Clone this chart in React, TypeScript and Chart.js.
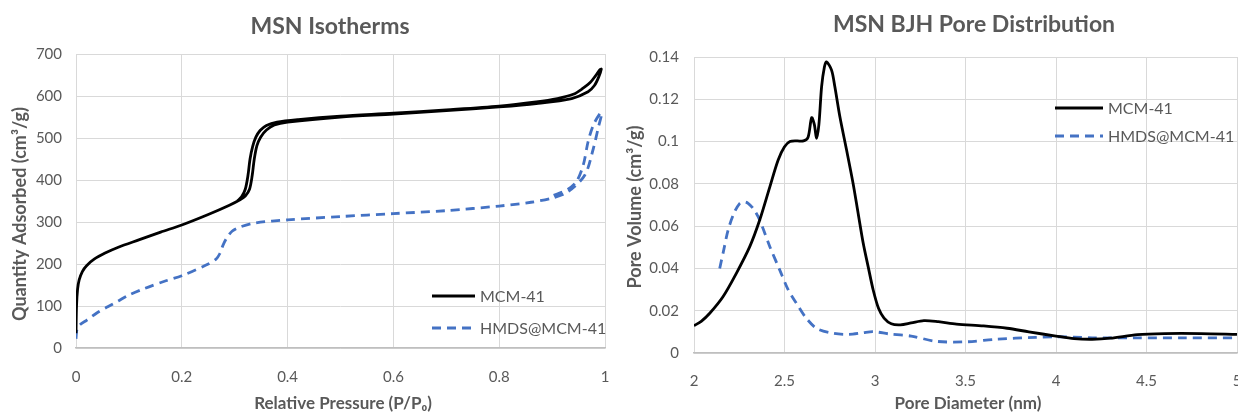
import React, { useEffect, useRef } from "react";
import { Chart, registerables } from "chart.js";
Chart.register(...registerables);

const FONT = "Lato, 'Open Sans', sans-serif";
const TEXT = "#595959";
const GRID = "#d9d9d9";
const AXIS = "#bfbfbf";
const BLACK = "#000000";
const BLUE = "#4472C4";

// ---- MSN Isotherms ----
const isoXTicks = [0, 0.2, 0.4, 0.6, 0.8, 1];
const isoYTicks = [0, 100, 200, 300, 400, 500, 600, 700];
// MCM-41: adsorption branch then desorption branch (hysteresis loop)
const mcmP = [0.0, 0.001, 0.003, 0.006, 0.012, 0.02, 0.035, 0.055, 0.08, 0.12, 0.16, 0.2, 0.25, 0.29, 0.31, 0.32, 0.328, 0.333, 0.337, 0.342, 0.349, 0.36, 0.375, 0.4, 0.5, 0.6, 0.7, 0.8, 0.87, 0.937, 0.968, 0.98, 0.988, 0.993, 0.99, 0.982, 0.972, 0.958, 0.94, 0.91, 0.87, 0.8, 0.7, 0.6, 0.5, 0.42, 0.38, 0.36, 0.348, 0.34, 0.334, 0.329, 0.325, 0.32, 0.313, 0.305];
const mcmQ = [35, 100, 140, 162, 182, 196, 212, 226, 240, 258, 276, 293, 318, 340, 353, 362, 378, 410, 450, 482, 502, 519, 531, 538, 550, 557, 565, 574, 582, 594, 610, 625, 645, 664, 662, 648, 632, 618, 604, 594, 586, 576, 567, 559, 552, 544, 538, 530, 518, 502, 480, 450, 410, 378, 360, 350];
// HMDS@MCM-41
const hmdsP = [0.0, 0.002, 0.008, 0.02, 0.04, 0.06, 0.08, 0.1, 0.13, 0.17, 0.2, 0.25, 0.265, 0.272, 0.278, 0.285, 0.295, 0.31, 0.34, 0.4, 0.5, 0.6, 0.7, 0.8, 0.86, 0.9, 0.93, 0.962, 0.978, 0.987, 0.994, 0.991, 0.978, 0.968, 0.959, 0.946, 0.93, 0.9];
const hmdsQ = [22, 45, 56, 66, 84, 98, 112, 126, 142, 160, 172, 200, 212, 225, 245, 262, 278, 288, 298, 305, 313, 320, 327, 338, 347, 357, 372, 412, 475, 523, 559, 559, 531, 491, 436, 396, 378, 362];

// ---- MSN BJH Pore Distribution ----
const bjhXTicks = [2, 2.5, 3, 3.5, 4, 4.5, 5];
const bjhYTicks = [0, 0.02, 0.04, 0.06, 0.08, 0.1, 0.12, 0.14];
const mcmD = [2.0, 2.04, 2.087, 2.16, 2.234, 2.308, 2.363, 2.419, 2.465, 2.5, 2.53, 2.57, 2.605, 2.63, 2.65, 2.665, 2.677, 2.69, 2.705, 2.72, 2.732, 2.76, 2.778, 2.806, 2.843, 2.879, 2.907, 2.935, 2.963, 2.99, 3.02, 3.05, 3.09, 3.14, 3.2, 3.27, 3.35, 3.45, 3.6, 3.73, 3.85, 4.0, 4.1, 4.2, 4.3, 4.45, 4.6, 4.8, 5.0];
const mcmV = [0.0129, 0.015, 0.0188, 0.0266, 0.0377, 0.0503, 0.0629, 0.0786, 0.0913, 0.0975, 0.1, 0.1003, 0.1003, 0.102, 0.1113, 0.108, 0.1015, 0.108, 0.126, 0.135, 0.1377, 0.1338, 0.126, 0.1117, 0.096, 0.0802, 0.066, 0.0519, 0.0405, 0.0298, 0.021, 0.0165, 0.0138, 0.0133, 0.0142, 0.0153, 0.0148, 0.0137, 0.0128, 0.0117, 0.01, 0.008, 0.0068, 0.0065, 0.007, 0.0087, 0.0092, 0.0092, 0.0088];
const hmdsD = [2.142, 2.165, 2.188, 2.22, 2.253, 2.276, 2.299, 2.33, 2.363, 2.419, 2.474, 2.52, 2.566, 2.62, 2.68, 2.77, 2.853, 2.93, 2.99, 3.08, 3.2, 3.34, 3.51, 3.667, 3.886, 4.0, 4.2, 4.43, 4.7, 5.0];
const hmdsV = [0.04, 0.049, 0.058, 0.066, 0.0708, 0.0715, 0.0708, 0.068, 0.0629, 0.0503, 0.0392, 0.03, 0.0235, 0.0165, 0.0115, 0.0093, 0.0088, 0.0095, 0.0101, 0.009, 0.008, 0.0055, 0.0053, 0.0065, 0.0074, 0.0077, 0.0072, 0.0072, 0.0072, 0.0072];

const seriesNames = ["MCM-41", "HMDS@MCM-41"];

type TextItem = { text: string; x: number; y: number; font: string; rot?: number };

function textPlugin(items: TextItem[]) {
  return {
    id: "customTexts",
    afterDraw(chart: any) {
      const ctx = chart.ctx;
      for (const t of items) {
        ctx.save();
        ctx.font = t.font;
        ctx.fillStyle = TEXT;
        ctx.textAlign = "center";
        ctx.textBaseline = "middle";
        ctx.translate(t.x, t.y);
        ctx.rotate(t.rot || 0);
        ctx.fillText(t.text, 0, 0);
        ctx.restore();
      }
    },
  };
}

function legendPlugin(x: number, ys: number[], len: number) {
  return {
    id: "inlineLegend",
    afterDraw(chart: any) {
      const ctx = chart.ctx;
      chart.data.datasets.forEach((ds: any, i: number) => {
        const y = ys[i];
        ctx.save();
        ctx.strokeStyle = ds.borderColor;
        ctx.lineWidth = ds.borderWidth;
        ctx.setLineDash(ds.borderDash || []);
        ctx.beginPath();
        ctx.moveTo(x, y);
        ctx.lineTo(x + len, y);
        ctx.stroke();
        ctx.setLineDash([]);
        ctx.font = `16px ${FONT}`;
        ctx.fillStyle = TEXT;
        ctx.textAlign = "left";
        ctx.textBaseline = "middle";
        ctx.fillText(ds.label, x + len + 5, y + 1);
        ctx.restore();
      });
    },
  };
}

function toPoints(xs: number[], ys: number[]) {
  return xs.map((x, i) => ({ x, y: ys[i] }));
}

function makeConfig(opts: {
  datasets: any[];
  xTicks: number[];
  yTicks: number[];
  xMin: number;
  xMax: number;
  yMax: number;
  padding: any;
  yWidth: number;
  xHeight: number;
  yPad: number;
  xPad: number;
  plugins: any[];
}) {
  return {
    type: "line",
    data: { datasets: opts.datasets },
    options: {
      animation: false,
      responsive: false,
      maintainAspectRatio: false,
      layout: { padding: opts.padding },
      plugins: { legend: { display: false }, title: { display: false }, tooltip: { enabled: false } },
      elements: { point: { radius: 0 } },
      scales: {
        x: {
          type: "linear",
          min: opts.xMin,
          max: opts.xMax,
          afterBuildTicks: (s: any) => {
            s.ticks = opts.xTicks.map((v) => ({ value: v }));
          },
          afterFit: (s: any) => {
            s.height = opts.xHeight;
            s.paddingLeft = 0;
            s.paddingRight = 0;
          },
          grid: { color: GRID, lineWidth: 1, drawTicks: false },
          border: { display: true, color: AXIS, width: 1.5 },
          ticks: {
            color: TEXT,
            font: { family: FONT, size: 15 },
            padding: opts.xPad,
            maxRotation: 0,
            autoSkip: false,
            callback: (v: number) => String(v),
          },
        },
        y: {
          type: "linear",
          min: 0,
          max: opts.yMax,
          afterBuildTicks: (s: any) => {
            s.ticks = opts.yTicks.map((v) => ({ value: v }));
          },
          afterFit: (s: any) => {
            s.width = opts.yWidth;
            s.paddingTop = 0;
            s.paddingBottom = 0;
          },
          grid: { color: GRID, lineWidth: 1, drawTicks: false },
          border: { display: false },
          ticks: {
            color: TEXT,
            font: { family: FONT, size: 15 },
            padding: opts.yPad,
            autoSkip: false,
            callback: (v: number) => String(v),
          },
        },
      },
    },
    plugins: opts.plugins,
  };
}

function ChartCanvas({ config, style }: { config: () => any; style: React.CSSProperties }) {
  const ref = useRef<HTMLCanvasElement | null>(null);
  useEffect(() => {
    if (!ref.current) return;
    const chart = new Chart(ref.current, config());
    return () => chart.destroy();
  }, []);
  return <canvas ref={ref} width={style.width as number} height={style.height as number} style={{ position: "absolute", ...style }} />;
}

export default function App() {
  const leftConfig = () =>
    makeConfig({
      datasets: [
        {
          label: seriesNames[0],
          data: toPoints(mcmP, mcmQ),
          borderColor: BLACK,
          borderWidth: 2.8,
          tension: 0.3,
          fill: false,
        },
        {
          label: seriesNames[1],
          data: toPoints(hmdsP, hmdsQ),
          borderColor: BLUE,
          borderWidth: 2.8,
          borderDash: [9, 6],
          tension: 0.3,
          fill: false,
        },
      ],
      xTicks: isoXTicks,
      yTicks: isoYTicks,
      xMin: 0,
      xMax: 1,
      yMax: 700,
      padding: { top: 54, left: 0, right: 13, bottom: 0 },
      yWidth: 76,
      xHeight: 67,
      yPad: 14,
      xPad: 20,
      plugins: [
        textPlugin([
          { text: "MSN Isotherms", x: 330, y: 27, font: `bold 23px ${FONT}` },
          { text: "Relative Pressure (P/P\u2080)", x: 343, y: 404, font: `bold 17px ${FONT}` },
          { text: "Quantity Adsorbed (cm\u00b3/g)", x: 20, y: 214, font: `bold 18px ${FONT}`, rot: -Math.PI / 2 },
        ]),
        legendPlugin(432, [296, 328], 43),
      ],
    });

  const rightConfig = () =>
    makeConfig({
      datasets: [
        {
          label: seriesNames[0],
          data: toPoints(mcmD, mcmV),
          borderColor: BLACK,
          borderWidth: 2.8,
          tension: 0.3,
          fill: false,
        },
        {
          label: seriesNames[1],
          data: toPoints(hmdsD, hmdsV),
          borderColor: BLUE,
          borderWidth: 2.8,
          borderDash: [9, 6],
          tension: 0.3,
          fill: false,
        },
      ],
      xTicks: bjhXTicks,
      yTicks: bjhYTicks,
      xMin: 2,
      xMax: 5,
      yMax: 0.14,
      padding: { top: 57, left: 0, right: 7, bottom: 0 },
      yWidth: 76,
      xHeight: 62,
      yPad: 15,
      xPad: 19,
      plugins: [
        textPlugin([
          { text: "MSN BJH Pore Distribution", x: 356, y: 25, font: `bold 23px ${FONT}` },
          { text: "Pore Diameter (nm)", x: 350, y: 404, font: `bold 17px ${FONT}` },
          { text: "Pore Volume (cm\u00b3/g)", x: 17, y: 207, font: `bold 18px ${FONT}`, rot: -Math.PI / 2 },
        ]),
        legendPlugin(437, [108, 136], 48),
      ],
    });

  return (
    <div
      style={{
        position: "fixed",
        left: 0,
        top: 0,
        width: 1238,
        height: 415,
        overflow: "hidden",
        background: "#ffffff",
      }}
    >
      <ChartCanvas config={leftConfig} style={{ left: 0, top: 0, width: 618, height: 415 }} />
      <ChartCanvas config={rightConfig} style={{ left: 618, top: 0, width: 626, height: 415 }} />
    </div>
  );
}
